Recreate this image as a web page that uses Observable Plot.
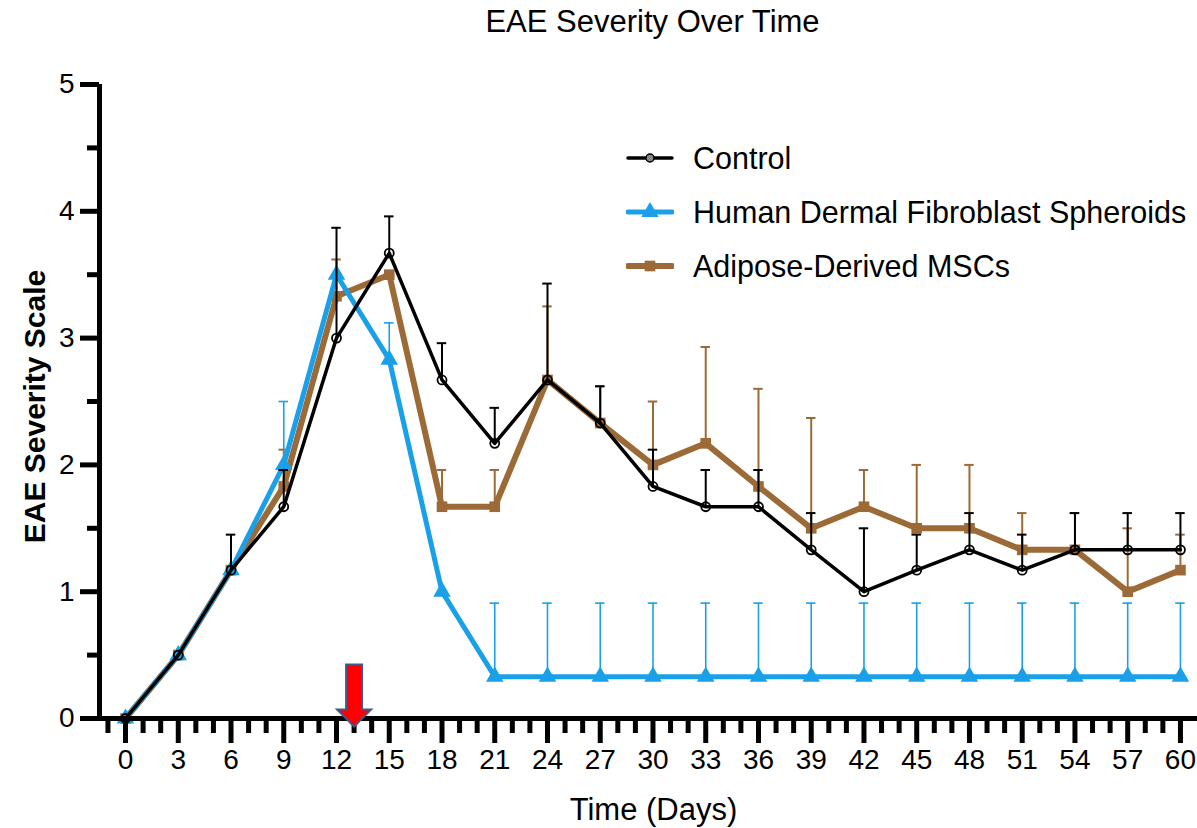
<!DOCTYPE html>
<html><head><meta charset="utf-8">
<script src="https://cdn.jsdelivr.net/npm/d3@7"></script>
<script src="https://cdn.jsdelivr.net/npm/@observablehq/plot@0.6"></script>
<style>
html,body{margin:0;padding:0;background:#fff;}
#wrap{position:relative;width:1197px;height:828px;font-family:"Liberation Sans",Arial,sans-serif;color:#000;}
#wrap svg.plot{position:absolute;left:0;top:0;}
#legend{position:absolute;left:626px;top:131px;}
.item{display:flex;align-items:center;height:54px;font-size:30.5px;white-space:nowrap;}
.item svg{margin-right:19px;display:block}
</style></head><body><div id="wrap"></div>
<script>
// ---- data ----
const days = [0,3,6,9,12,15,18,21,24,27,30,33,36,39,42,45,48,51,54,57,60];
const seriesNames = ["Control", "Human Dermal Fibroblast Spheroids", "Adipose-Derived MSCs"];
const controlMean = [0,0.5,1.17,1.67,3.0,3.67,2.67,2.17,2.67,2.33,1.83,1.67,1.67,1.33,1.0,1.17,1.33,1.17,1.33,1.33,1.33];
const controlErr  = [0,0,0.28,0.29,0.87,0.29,0.29,0.28,0.76,0.29,0.29,0.29,0.29,0.29,0.5,0.28,0.29,0.28,0.29,0.29,0.29];
const hdfMean = [0,0.5,1.17,2.0,3.5,2.83,1.0,0.33,0.33,0.33,0.33,0.33,0.33,0.33,0.33,0.33,0.33,0.33,0.33,0.33,0.33];
const hdfErr  = [0,0,0,0.5,0,0.29,0,0.58,0.58,0.58,0.58,0.58,0.58,0.58,0.58,0.58,0.58,0.58,0.58,0.58,0.58];
const mscMean = [0,0.5,1.17,1.83,3.33,3.5,1.67,1.67,2.67,2.33,2.0,2.17,1.83,1.5,1.67,1.5,1.5,1.33,1.33,1.0,1.17];
const mscErr  = [0,0,0,0.29,0.29,0,0.29,0.29,0.58,0.29,0.5,0.76,0.77,0.87,0.29,0.5,0.5,0.29,0.29,0.5,0.28];
const yMajorTicks = [0,1,2,3,4,5];
const yMinorTicks = [0.5,1.5,2.5,3.5,4.5];
const xMinorTicks = d3.range(-1, 61).filter(d => d % 3 !== 0);
const arrowDay = [13];
const titleText = "EAE Severity Over Time";
const xLabel = "Time (Days)";
const yLabel = "EAE Severity Scale";

// ---- styles ----
const BLACK = "#000000", BLUE = "#1AA0E8", BROWN = "#9C6A36";
const X0 = -1.48, X1 = 60.97;

const rows = (mean, err) => days.map((d, i) => ({day: d, value: mean[i], top: mean[i] + err[i], err: err[i]}));
const control = rows(controlMean, controlErr);
const hdf = rows(hdfMean, hdfErr);
const msc = rows(mscMean, mscErr);

const capHalf = 0.27;
function errMarks(data, color, w) {
  const d = data.filter(r => r.err > 0);
  return [
    Plot.ruleX(d, {x: "day", y1: "value", y2: "top", stroke: color, strokeWidth: w}),
    Plot.ruleY(d, {y: "top", x1: r => r.day - capHalf, x2: r => r.day + capHalf, stroke: color, strokeWidth: w})
  ];
}

const arrowSymbol = {
  draw(ctx) {
    ctx.moveTo(-8, -54);
    ctx.lineTo(8, -54);
    ctx.lineTo(8, -9);
    ctx.lineTo(17, -9);
    ctx.lineTo(0, 8);
    ctx.lineTo(-17, -9);
    ctx.lineTo(-8, -9);
    ctx.closePath();
  }
};

const chart = Plot.plot({
  width: 1197, height: 828,
  marginLeft: 99, marginRight: 0, marginTop: 84, marginBottom: 110,
  style: {fontFamily: "Liberation Sans, Arial, sans-serif", color: "#000", background: "transparent", overflow: "visible"},
  x: {domain: [X0, X1]},
  y: {domain: [0, 5]},
  marks: [
    ...errMarks(msc, BROWN, 2),
    Plot.line(msc, {x: "day", y: "value", stroke: BROWN, strokeWidth: 6}),
    Plot.dot(msc, {x: "day", y: "value", symbol: "square", r: 6, fill: BROWN}),
    ...errMarks(hdf, BLUE, 1.6),
    Plot.line(hdf, {x: "day", y: "value", stroke: BLUE, strokeWidth: 5}),
    Plot.dot(hdf, {x: "day", y: "value", symbol: "triangle", r: 6.5, fill: BLUE}),
    ...errMarks(control, BLACK, 2),
    Plot.line(control, {x: "day", y: "value", stroke: BLACK, strokeWidth: 3.5}),
    Plot.dot(control, {x: "day", y: "value", symbol: "circle", r: 4.5, stroke: BLACK, strokeWidth: 1.8, fill: "none"}),
    // axes
    Plot.axisY({ticks: yMajorTicks, tickSize: 19, tickPadding: 6, fontSize: 28, strokeWidth: 5, tickFormat: d => String(d), label: null}),
    Plot.axisY({ticks: yMinorTicks, tickSize: 12, strokeWidth: 5, tickFormat: () => "", label: null}),
    Plot.axisX({ticks: days, tickSize: 25, tickPadding: 6, fontSize: 28, strokeWidth: 5, tickFormat: d => String(d), label: null}),
    Plot.axisX({ticks: xMinorTicks, tickSize: 15, strokeWidth: 5, tickFormat: () => "", label: null}),
    Plot.ruleX([X0], {y1: 0, y2: 5, strokeWidth: 5}),
    Plot.ruleY([0], {x1: X0 - 0.14, x2: X1 + 0.5, strokeWidth: 5}),
    // annotation arrow
    Plot.dot(arrowDay, {x: d => d, y: () => 0, symbol: arrowSymbol, fill: "#FF0000", stroke: "#3F5A8A", strokeWidth: 2}),
    // texts
    Plot.text([titleText], {text: d => d, frameAnchor: "top", dx: 4, dy: -62, fontSize: 31, lineAnchor: "middle"}),
    Plot.text([xLabel], {text: d => d, frameAnchor: "bottom", dx: 5, dy: 92, fontSize: 31, lineAnchor: "middle"}),
    Plot.text([yLabel], {text: d => d, frameAnchor: "left", dx: -64, dy: 5, rotate: -90, fontSize: 30, fontWeight: "bold", textAnchor: "middle", lineAnchor: "middle"})
  ]
});

const wrap = document.getElementById("wrap");
wrap.appendChild(chart);

// legend
const legendDefs = [
  {name: seriesNames[0], color: BLACK, w: 3.5, symbol: d3.symbolCircle, r: 4, fill: "#888", stroke: BLACK},
  {name: seriesNames[1], color: BLUE, w: 5, symbol: d3.symbolTriangle, r: 6.5, fill: BLUE, stroke: "none"},
  {name: seriesNames[2], color: BROWN, w: 6, symbol: d3.symbolSquare, r: 6, fill: BROWN, stroke: "none"}
];
const legend = d3.select(wrap).append("div").attr("id", "legend");
legendDefs.forEach(def => {
  const item = legend.append("div").attr("class", "item");
  const s = item.append("svg").attr("width", 48).attr("height", 24);
  s.append("line").attr("x1", 2).attr("x2", 46).attr("y1", 12).attr("y2", 12)
    .attr("stroke", def.color).attr("stroke-width", def.w).attr("stroke-linecap", "round");
  s.append("path").attr("transform", "translate(24,12)")
    .attr("d", d3.symbol(def.symbol, def.r * def.r * Math.PI)())
    .attr("fill", def.fill).attr("stroke", def.stroke).attr("stroke-width", 1.5);
  item.append("span").text(def.name);
});
</script>
</body></html>
